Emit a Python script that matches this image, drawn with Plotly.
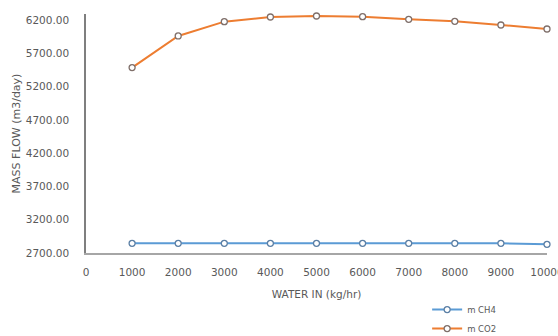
import plotly.graph_objects as go

water_in = [1000, 2000, 3000, 4000, 5000, 6000, 7000, 8000, 9000, 10000]
m_ch4 = [2845, 2845, 2845, 2845, 2845, 2845, 2845, 2845, 2845, 2830]
m_co2 = [5485, 5960, 6175, 6245, 6260, 6250, 6210, 6180, 6125, 6065]
y_ticks = [2700, 3200, 3700, 4200, 4700, 5200, 5700, 6200]
x_ticks = [0, 1000, 2000, 3000, 4000, 5000, 6000, 7000, 8000, 9000, 10000]

fig = go.Figure()
fig.add_trace(go.Scatter(
    x=water_in, y=m_ch4, name="m CH4", mode="lines+markers",
    line=dict(color="#5B9BD5", width=2),
    marker=dict(symbol="circle", size=6, color="white", line=dict(color="#5B7FA5", width=1.3)),
    cliponaxis=False,
))
fig.add_trace(go.Scatter(
    x=water_in, y=m_co2, name="m CO2", mode="lines+markers",
    line=dict(color="#ED7D31", width=2),
    marker=dict(symbol="circle", size=6, color="white", line=dict(color="#7F6F6A", width=1.3)),
    cliponaxis=False,
))

font_family = "DejaVu Sans, Liberation Sans, Arial, sans-serif"
fig.update_layout(
    width=558, height=336,
    margin=dict(l=86, r=11, t=14, b=83, autoexpand=False),
    paper_bgcolor="white", plot_bgcolor="white",
    font=dict(family=font_family, size=10, color="#595959"),
    showlegend=True,
    legend=dict(
        x=0.74, y=-0.176, xanchor="left", yanchor="top",
        font=dict(size=8.5, color="#595959"),
        bgcolor="rgba(0,0,0,0)", itemwidth=30, tracegroupgap=0,
    ),
    xaxis=dict(
        range=[0, 10000], tickvals=x_ticks, ticktext=[str(v) for v in x_ticks],
        showgrid=False, zeroline=False, showline=True, linecolor="#A6A6A6", linewidth=2,
        ticks="", tickfont=dict(size=10.5, color="#595959"), ticklabeloverflow="allow",
        ticklabelstandoff=8,
        title=dict(text="WATER IN (kg/hr)", font=dict(size=10.5, color="#595959"), standoff=14),
    ),
    yaxis=dict(
        range=[2700, 6290], tickvals=y_ticks, tickformat=".2f",
        showgrid=False, zeroline=False, showline=True, linecolor="#7F7F7F", linewidth=1.5,
        ticks="", tickfont=dict(size=10.5, color="#595959"), ticklabelstandoff=13,
        title=dict(text="MASS FLOW (m3/day)", font=dict(size=11, color="#595959"), standoff=3),
    ),
)

fig.write_html("out.html")
